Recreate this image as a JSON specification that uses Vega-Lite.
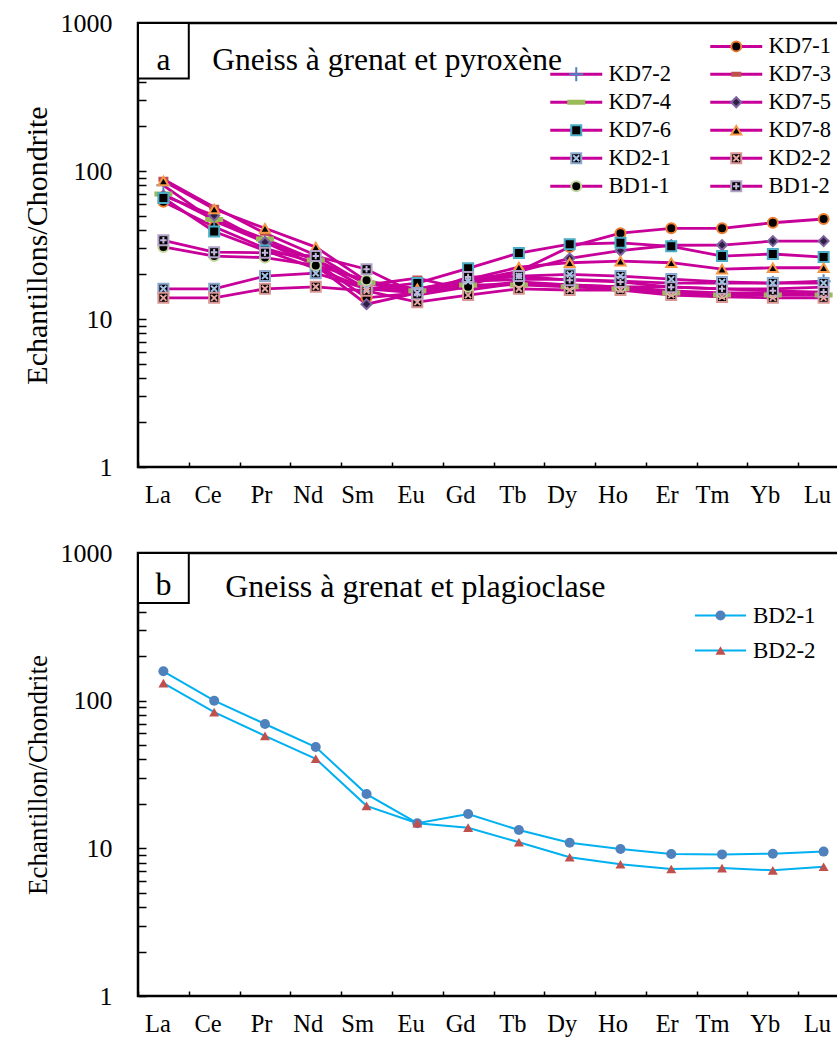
{
  "$schema": "https://vega.github.io/schema/vega-lite/v6.json",
  "background": "white",
  "padding": {"left": 20, "top": 8, "right": 0, "bottom": 0},
  "config": {
    "font": "Liberation Serif",
    "view": {"stroke": "black", "strokeWidth": 2.5},
    "axis": {
      "labelFont": "Liberation Serif",
      "titleFont": "Liberation Serif",
      "labelColor": "black",
      "titleColor": "black",
      "titleFontWeight": "normal",
      "tickColor": "black",
      "domain": false,
      "grid": false
    },
    "legend": {"labelFont": "Liberation Serif", "labelColor": "black", "padding": 0, "labelLimit": 0}
  },
  "datasets": {
    "gneiss_pyroxene": [
      {"s": "KD7-1", "el": "La", "v": 62}, {"s": "KD7-1", "el": "Ce", "v": 42}, {"s": "KD7-1", "el": "Pr", "v": 30}, {"s": "KD7-1", "el": "Nd", "v": 24}, {"s": "KD7-1", "el": "Sm", "v": 13.9}, {"s": "KD7-1", "el": "Eu", "v": 15}, {"s": "KD7-1", "el": "Gd", "v": 17}, {"s": "KD7-1", "el": "Tb", "v": 21}, {"s": "KD7-1", "el": "Dy", "v": 30.7}, {"s": "KD7-1", "el": "Ho", "v": 38}, {"s": "KD7-1", "el": "Er", "v": 41}, {"s": "KD7-1", "el": "Tm", "v": 41}, {"s": "KD7-1", "el": "Yb", "v": 44.7}, {"s": "KD7-1", "el": "Lu", "v": 47.4},
      {"s": "KD7-2", "el": "La", "v": 80}, {"s": "KD7-2", "el": "Ce", "v": 46}, {"s": "KD7-2", "el": "Pr", "v": 33}, {"s": "KD7-2", "el": "Nd", "v": 25}, {"s": "KD7-2", "el": "Sm", "v": 16}, {"s": "KD7-2", "el": "Eu", "v": 16}, {"s": "KD7-2", "el": "Gd", "v": 18}, {"s": "KD7-2", "el": "Tb", "v": 18.5}, {"s": "KD7-2", "el": "Dy", "v": 18.5}, {"s": "KD7-2", "el": "Ho", "v": 18}, {"s": "KD7-2", "el": "Er", "v": 17.5}, {"s": "KD7-2", "el": "Tm", "v": 17.5}, {"s": "KD7-2", "el": "Yb", "v": 17.5}, {"s": "KD7-2", "el": "Lu", "v": 18},
      {"s": "KD7-3", "el": "La", "v": 88}, {"s": "KD7-3", "el": "Ce", "v": 57}, {"s": "KD7-3", "el": "Pr", "v": 38}, {"s": "KD7-3", "el": "Nd", "v": 27}, {"s": "KD7-3", "el": "Sm", "v": 17}, {"s": "KD7-3", "el": "Eu", "v": 18.9}, {"s": "KD7-3", "el": "Gd", "v": 15.7}, {"s": "KD7-3", "el": "Tb", "v": 17.5}, {"s": "KD7-3", "el": "Dy", "v": 17}, {"s": "KD7-3", "el": "Ho", "v": 16.5}, {"s": "KD7-3", "el": "Er", "v": 16.5}, {"s": "KD7-3", "el": "Tm", "v": 16}, {"s": "KD7-3", "el": "Yb", "v": 16}, {"s": "KD7-3", "el": "Lu", "v": 16.4},
      {"s": "KD7-4", "el": "La", "v": 70}, {"s": "KD7-4", "el": "Ce", "v": 47}, {"s": "KD7-4", "el": "Pr", "v": 34.7}, {"s": "KD7-4", "el": "Nd", "v": 25}, {"s": "KD7-4", "el": "Sm", "v": 17.5}, {"s": "KD7-4", "el": "Eu", "v": 15.5}, {"s": "KD7-4", "el": "Gd", "v": 17}, {"s": "KD7-4", "el": "Tb", "v": 17}, {"s": "KD7-4", "el": "Dy", "v": 16.5}, {"s": "KD7-4", "el": "Ho", "v": 16}, {"s": "KD7-4", "el": "Er", "v": 15}, {"s": "KD7-4", "el": "Tm", "v": 14.5}, {"s": "KD7-4", "el": "Yb", "v": 14.5}, {"s": "KD7-4", "el": "Lu", "v": 14.5},
      {"s": "KD7-5", "el": "La", "v": 68}, {"s": "KD7-5", "el": "Ce", "v": 50}, {"s": "KD7-5", "el": "Pr", "v": 33}, {"s": "KD7-5", "el": "Nd", "v": 23}, {"s": "KD7-5", "el": "Sm", "v": 12.6}, {"s": "KD7-5", "el": "Eu", "v": 15}, {"s": "KD7-5", "el": "Gd", "v": 18}, {"s": "KD7-5", "el": "Tb", "v": 21}, {"s": "KD7-5", "el": "Dy", "v": 25.7}, {"s": "KD7-5", "el": "Ho", "v": 29}, {"s": "KD7-5", "el": "Er", "v": 31.5}, {"s": "KD7-5", "el": "Tm", "v": 31.6}, {"s": "KD7-5", "el": "Yb", "v": 33.6}, {"s": "KD7-5", "el": "Lu", "v": 33.6},
      {"s": "KD7-6", "el": "La", "v": 65.7}, {"s": "KD7-6", "el": "Ce", "v": 39}, {"s": "KD7-6", "el": "Pr", "v": 29}, {"s": "KD7-6", "el": "Nd", "v": 22}, {"s": "KD7-6", "el": "Sm", "v": 16}, {"s": "KD7-6", "el": "Eu", "v": 17.5}, {"s": "KD7-6", "el": "Gd", "v": 22}, {"s": "KD7-6", "el": "Tb", "v": 27.9}, {"s": "KD7-6", "el": "Dy", "v": 32}, {"s": "KD7-6", "el": "Ho", "v": 32.7}, {"s": "KD7-6", "el": "Er", "v": 31}, {"s": "KD7-6", "el": "Tm", "v": 26.6}, {"s": "KD7-6", "el": "Yb", "v": 27.5}, {"s": "KD7-6", "el": "Lu", "v": 26.2},
      {"s": "KD7-8", "el": "La", "v": 85.6}, {"s": "KD7-8", "el": "Ce", "v": 55.4}, {"s": "KD7-8", "el": "Pr", "v": 41}, {"s": "KD7-8", "el": "Nd", "v": 30.6}, {"s": "KD7-8", "el": "Sm", "v": 18}, {"s": "KD7-8", "el": "Eu", "v": 16}, {"s": "KD7-8", "el": "Gd", "v": 18.5}, {"s": "KD7-8", "el": "Tb", "v": 22.4}, {"s": "KD7-8", "el": "Dy", "v": 24}, {"s": "KD7-8", "el": "Ho", "v": 24.6}, {"s": "KD7-8", "el": "Er", "v": 24}, {"s": "KD7-8", "el": "Tm", "v": 21.7}, {"s": "KD7-8", "el": "Yb", "v": 22.2}, {"s": "KD7-8", "el": "Lu", "v": 22.2},
      {"s": "KD2-1", "el": "La", "v": 16}, {"s": "KD2-1", "el": "Ce", "v": 16}, {"s": "KD2-1", "el": "Pr", "v": 19.5}, {"s": "KD2-1", "el": "Nd", "v": 20.4}, {"s": "KD2-1", "el": "Sm", "v": 16}, {"s": "KD2-1", "el": "Eu", "v": 15}, {"s": "KD2-1", "el": "Gd", "v": 18}, {"s": "KD2-1", "el": "Tb", "v": 19.5}, {"s": "KD2-1", "el": "Dy", "v": 20}, {"s": "KD2-1", "el": "Ho", "v": 19.5}, {"s": "KD2-1", "el": "Er", "v": 18.6}, {"s": "KD2-1", "el": "Tm", "v": 17.8}, {"s": "KD2-1", "el": "Yb", "v": 17.5}, {"s": "KD2-1", "el": "Lu", "v": 17.5},
      {"s": "KD2-2", "el": "La", "v": 13.9}, {"s": "KD2-2", "el": "Ce", "v": 13.9}, {"s": "KD2-2", "el": "Pr", "v": 16}, {"s": "KD2-2", "el": "Nd", "v": 16.5}, {"s": "KD2-2", "el": "Sm", "v": 15.5}, {"s": "KD2-2", "el": "Eu", "v": 13}, {"s": "KD2-2", "el": "Gd", "v": 14.5}, {"s": "KD2-2", "el": "Tb", "v": 16}, {"s": "KD2-2", "el": "Dy", "v": 15.7}, {"s": "KD2-2", "el": "Ho", "v": 15.7}, {"s": "KD2-2", "el": "Er", "v": 14.5}, {"s": "KD2-2", "el": "Tm", "v": 14.1}, {"s": "KD2-2", "el": "Yb", "v": 13.9}, {"s": "KD2-2", "el": "Lu", "v": 13.9},
      {"s": "BD1-1", "el": "La", "v": 30.7}, {"s": "BD1-1", "el": "Ce", "v": 26.6}, {"s": "BD1-1", "el": "Pr", "v": 26}, {"s": "BD1-1", "el": "Nd", "v": 23}, {"s": "BD1-1", "el": "Sm", "v": 18.3}, {"s": "BD1-1", "el": "Eu", "v": 14.5}, {"s": "BD1-1", "el": "Gd", "v": 16.5}, {"s": "BD1-1", "el": "Tb", "v": 17.8}, {"s": "BD1-1", "el": "Dy", "v": 17}, {"s": "BD1-1", "el": "Ho", "v": 16.5}, {"s": "BD1-1", "el": "Er", "v": 15.5}, {"s": "BD1-1", "el": "Tm", "v": 15}, {"s": "BD1-1", "el": "Yb", "v": 15}, {"s": "BD1-1", "el": "Lu", "v": 15},
      {"s": "BD1-2", "el": "La", "v": 34}, {"s": "BD1-2", "el": "Ce", "v": 28.3}, {"s": "BD1-2", "el": "Pr", "v": 28}, {"s": "BD1-2", "el": "Nd", "v": 26.6}, {"s": "BD1-2", "el": "Sm", "v": 21.7}, {"s": "BD1-2", "el": "Eu", "v": 14.7}, {"s": "BD1-2", "el": "Gd", "v": 19.2}, {"s": "BD1-2", "el": "Tb", "v": 19.5}, {"s": "BD1-2", "el": "Dy", "v": 18.3}, {"s": "BD1-2", "el": "Ho", "v": 17.8}, {"s": "BD1-2", "el": "Er", "v": 16.4}, {"s": "BD1-2", "el": "Tm", "v": 16}, {"s": "BD1-2", "el": "Yb", "v": 15.5}, {"s": "BD1-2", "el": "Lu", "v": 15.2}
    ],
    "gneiss_plagioclase": [
      {"s": "BD2-1", "el": "La", "v": 158}, {"s": "BD2-1", "el": "Ce", "v": 100}, {"s": "BD2-1", "el": "Pr", "v": 69.5}, {"s": "BD2-1", "el": "Nd", "v": 48.5}, {"s": "BD2-1", "el": "Sm", "v": 23.3}, {"s": "BD2-1", "el": "Eu", "v": 14.8}, {"s": "BD2-1", "el": "Gd", "v": 17.1}, {"s": "BD2-1", "el": "Tb", "v": 13.3}, {"s": "BD2-1", "el": "Dy", "v": 10.9}, {"s": "BD2-1", "el": "Ho", "v": 9.9}, {"s": "BD2-1", "el": "Er", "v": 9.15}, {"s": "BD2-1", "el": "Tm", "v": 9.1}, {"s": "BD2-1", "el": "Yb", "v": 9.2}, {"s": "BD2-1", "el": "Lu", "v": 9.5},
      {"s": "BD2-2", "el": "La", "v": 131.6}, {"s": "BD2-2", "el": "Ce", "v": 83.7}, {"s": "BD2-2", "el": "Pr", "v": 57.8}, {"s": "BD2-2", "el": "Nd", "v": 40.4}, {"s": "BD2-2", "el": "Sm", "v": 19.4}, {"s": "BD2-2", "el": "Eu", "v": 14.8}, {"s": "BD2-2", "el": "Gd", "v": 13.8}, {"s": "BD2-2", "el": "Tb", "v": 11}, {"s": "BD2-2", "el": "Dy", "v": 8.7}, {"s": "BD2-2", "el": "Ho", "v": 7.8}, {"s": "BD2-2", "el": "Er", "v": 7.25}, {"s": "BD2-2", "el": "Tm", "v": 7.35}, {"s": "BD2-2", "el": "Yb", "v": 7.1}, {"s": "BD2-2", "el": "Lu", "v": 7.5}
    ]
  },
  "spacing": 30,
  "resolve": {"scale": {"color": "independent", "shape": "independent", "fill": "independent", "stroke": "independent"}},
  "vconcat": [
    {
      "width": 711,
      "height": 444,
      "data": {"name": "gneiss_pyroxene"},
      "resolve": {"scale": {"shape": "independent", "stroke": "independent", "fill": "independent"}},
      "layer": [
        {
          "data": {"values": [{}]},
          "mark": {"type": "rect", "fill": "white", "stroke": "black", "strokeWidth": 2},
          "encoding": {"x": {"datum": "La", "type": "nominal"}, "y": {"datum": 1000, "type": "quantitative"}, "y2": {"datum": 422}}
        },
        {
          "data": {"values": [{}]},
          "mark": {"type": "text", "text": "a", "fontSize": 31.5, "align": "center", "baseline": "alphabetic", "color": "black"},
          "encoding": {"x": {"datum": "La", "type": "nominal"}, "y": {"datum": 481, "type": "quantitative"}}
        },
        {
          "data": {"values": [{}]},
          "mark": {"type": "text", "text": "Gneiss à grenat et pyroxène", "fontSize": 31.5, "align": "left", "baseline": "alphabetic", "dx": -2, "color": "black"},
          "encoding": {"x": {"datum": "Ce", "type": "nominal"}, "y": {"datum": 481, "type": "quantitative"}}
        },
        {
          "mark": {"type": "line", "strokeWidth": 2.8},
          "encoding": {
            "x": {
              "field": "el", "type": "nominal", "title": null,
              "sort": ["La", "Ce", "Pr", "Nd", "Sm", "Eu", "Gd", "Tb", "Dy", "Ho", "Er", "Tm", "Yb", "Lu"],
              "scale": {"type": "band", "domain": ["La", "Ce", "Pr", "Nd", "Sm", "Eu", "Gd", "Tb", "Dy", "Ho", "Er", "Tm", "Yb", "Lu"], "paddingInner": 0, "paddingOuter": 0},
              "axis": {"labelAngle": 0, "labelFontSize": 24.5, "labelPadding": 33, "labelOffset": 7, "tickBand": "extent", "tickSize": -5, "tickWidth": 1.5}
            },
            "y": {
              "field": "v", "type": "quantitative", "title": "Echantillons/Chondrite",
              "scale": {"type": "log", "domain": [1, 1000]},
              "axis": {
                "titleFontSize": 30, "titlePadding": 8,
                "labelFontSize": 26, "labelPadding": 34, "tickSize": -8, "tickWidth": 1.5, "format": "d",
                "values": [1, 2, 3, 4, 5, 6, 7, 8, 9, 10, 20, 30, 40, 50, 60, 70, 80, 90, 100, 200, 300, 400, 500, 600, 700, 800, 900, 1000],
                "labelExpr": "indexof([1, 10, 100, 1000], datum.value) >= 0 ? datum.label : ''"
              }
            },
            "color": {
              "field": "s", "type": "nominal",
              "scale": {
                "domain": [" ", "KD7-2", "KD7-4", "KD7-6", "KD2-1", "BD1-1", "KD7-1", "KD7-3", "KD7-5", "KD7-8", "KD2-2", "BD1-2"],
                "range": ["transparent", "#C8009A", "#C8009A", "#C8009A", "#C8009A", "#C8009A", "#C8009A", "#C8009A", "#C8009A", "#C8009A", "#C8009A", "#C8009A"]
              },
              "legend": {
                "orient": "none", "legendX": 406, "legendY": 12, "columns": 2, "columnPadding": 33, "rowPadding": 5,
                "title": null, "labelFontSize": 22.5, "symbolSize": 100, "symbolOffset": 21, "labelOffset": 21,
                "symbolType": "M-5.2,0H5.2", "symbolStrokeWidth": 3
              }
            }
          }
        },
        {
          "mark": {"type": "point", "filled": true, "opacity": 1, "size": 100, "strokeWidth": 2},
          "encoding": {
            "x": {"field": "el", "type": "nominal", "title": null, "sort": ["La", "Ce", "Pr", "Nd", "Sm", "Eu", "Gd", "Tb", "Dy", "Ho", "Er", "Tm", "Yb", "Lu"]},
            "y": {"field": "v", "type": "quantitative", "title": "Echantillons/Chondrite"},
            "shape": {
              "field": "s", "type": "nominal",
              "scale": {
                "domain": ["  ", "KD7-2", "KD7-4", "KD7-6", "KD2-1", "BD1-1", "KD7-1", "KD7-3", "KD7-5", "KD7-8", "KD2-2", "BD1-2"],
                "range": ["circle", "M-1.4,0H1.4M0,-1.4V1.4", "M-1.6,-0.3H1.6V0.3H-1.6Z", "square", "square", "circle", "circle", "M-0.8,-0.3H0.8V0.3H-0.8Z", "diamond", "triangle-up", "square", "square"]
              },
              "legend": {
                "orient": "none", "legendX": 406, "legendY": 12, "columns": 2, "columnPadding": 33, "rowPadding": 5,
                "title": null, "labelFontSize": 22.5, "symbolSize": 100, "symbolOffset": 21, "labelOffset": 21,
                "symbolStrokeWidth": 2, "labelOpacity": 0
              }
            },
            "fill": {
              "field": "s", "type": "nominal",
              "scale": {
                "domain": ["  ", "KD7-2", "KD7-4", "KD7-6", "KD2-1", "BD1-1", "KD7-1", "KD7-3", "KD7-5", "KD7-8", "KD2-2", "BD1-2"],
                "range": ["transparent", "transparent", "#9BBB59", "black", "black", "black", "black", "#C0504D", "#2E1F44", "black", "black", "black"]
              },
              "legend": {
                "orient": "none", "legendX": 406, "legendY": 12, "columns": 2, "columnPadding": 33, "rowPadding": 5,
                "title": null, "labelFontSize": 22.5, "symbolSize": 100, "symbolOffset": 21, "labelOffset": 21,
                "symbolStrokeWidth": 2, "labelOpacity": 0
              }
            },
            "stroke": {
              "field": "s", "type": "nominal",
              "scale": {
                "domain": ["  ", "KD7-2", "KD7-4", "KD7-6", "KD2-1", "BD1-1", "KD7-1", "KD7-3", "KD7-5", "KD7-8", "KD2-2", "BD1-2"],
                "range": ["transparent", "#4F81BD", "#9BBB59", "#4BACC6", "#8EA9CF", "#C3D69B", "#ED7D31", "#C0504D", "#8064A2", "#F79646", "#D99694", "#B3A2C7"]
              },
              "legend": {
                "orient": "none", "legendX": 406, "legendY": 12, "columns": 2, "columnPadding": 33, "rowPadding": 5,
                "title": null, "labelFontSize": 22.5, "symbolSize": 100, "symbolOffset": 21, "labelOffset": 21,
                "symbolStrokeWidth": 2, "labelOpacity": 0
              }
            }
          }
        },
        {
          "transform": [{"filter": {"field": "s", "oneOf": ["KD2-1", "KD2-2", "BD1-2"]}}],
          "mark": {"type": "point", "filled": false, "opacity": 1, "size": 100, "strokeWidth": 2},
          "encoding": {
            "x": {"field": "el", "type": "nominal", "title": null, "sort": ["La", "Ce", "Pr", "Nd", "Sm", "Eu", "Gd", "Tb", "Dy", "Ho", "Er", "Tm", "Yb", "Lu"]},
            "y": {"field": "v", "type": "quantitative", "title": "Echantillons/Chondrite"},
            "shape": {
              "field": "s", "type": "nominal",
              "scale": {
                "domain": ["   ", "KD7-2", "KD7-4", "KD7-6", "KD2-1", "BD1-1", "KD7-1", "KD7-3", "KD7-5", "KD7-8", "KD2-2", "BD1-2"],
                "range": ["circle", "circle", "circle", "circle", "M-0.6,-0.6L0.6,0.6M-0.6,0.6L0.6,-0.6", "circle", "circle", "circle", "circle", "circle", "M-0.6,-0.6L0.6,0.6M-0.6,0.6L0.6,-0.6", "M-0.65,0H0.65M0,-0.65V0.65"]
              },
              "legend": {
                "orient": "none", "legendX": 406, "legendY": 12, "columns": 2, "columnPadding": 33, "rowPadding": 5,
                "title": null, "labelFontSize": 22.5, "symbolSize": 100, "symbolOffset": 21, "labelOffset": 21,
                "symbolStrokeWidth": 2, "labelOpacity": 0
              }
            },
            "stroke": {
              "field": "s", "type": "nominal",
              "scale": {
                "domain": ["   ", "KD7-2", "KD7-4", "KD7-6", "KD2-1", "BD1-1", "KD7-1", "KD7-3", "KD7-5", "KD7-8", "KD2-2", "BD1-2"],
                "range": ["transparent", "transparent", "transparent", "transparent", "#A6C1E6", "transparent", "transparent", "transparent", "transparent", "transparent", "#E6A5A3", "#C5B6DC"]
              },
              "legend": {
                "orient": "none", "legendX": 406, "legendY": 12, "columns": 2, "columnPadding": 33, "rowPadding": 5,
                "title": null, "labelFontSize": 22.5, "symbolSize": 100, "symbolOffset": 21, "labelOffset": 21,
                "symbolStrokeWidth": 2, "labelOpacity": 0
              }
            }
          }
        }
      ]
    },
    {
      "width": 711,
      "height": 443,
      "data": {"name": "gneiss_plagioclase"},
      "layer": [
        {
          "data": {"values": [{}]},
          "mark": {"type": "rect", "fill": "white", "stroke": "black", "strokeWidth": 2},
          "encoding": {"x": {"datum": "La", "type": "nominal"}, "y": {"datum": 1000, "type": "quantitative"}, "y2": {"datum": 459}}
        },
        {
          "data": {"values": [{}]},
          "mark": {"type": "text", "text": "b", "fontSize": 32, "align": "center", "baseline": "alphabetic", "color": "black"},
          "encoding": {"x": {"datum": "La", "type": "nominal"}, "y": {"datum": 520, "type": "quantitative"}}
        },
        {
          "data": {"values": [{}]},
          "mark": {"type": "text", "text": "Gneiss à grenat et plagioclase", "fontSize": 32, "align": "left", "baseline": "alphabetic", "dx": 11, "color": "black"},
          "encoding": {"x": {"datum": "Ce", "type": "nominal"}, "y": {"datum": 504, "type": "quantitative"}}
        },
        {
          "mark": {"type": "line", "strokeWidth": 2},
          "encoding": {
            "x": {
              "field": "el", "type": "nominal", "title": null,
              "sort": ["La", "Ce", "Pr", "Nd", "Sm", "Eu", "Gd", "Tb", "Dy", "Ho", "Er", "Tm", "Yb", "Lu"],
              "scale": {"type": "band", "domain": ["La", "Ce", "Pr", "Nd", "Sm", "Eu", "Gd", "Tb", "Dy", "Ho", "Er", "Tm", "Yb", "Lu"], "paddingInner": 0, "paddingOuter": 0},
              "axis": {"labelAngle": 0, "labelFontSize": 24.5, "labelPadding": 33, "labelOffset": 7, "tickBand": "extent", "tickSize": -5, "tickWidth": 1.5}
            },
            "y": {
              "field": "v", "type": "quantitative", "title": "Echantillon/Chondrite",
              "scale": {"type": "log", "domain": [1, 1000]},
              "axis": {
                "titleFontSize": 27, "titlePadding": 8,
                "labelFontSize": 26, "labelPadding": 34, "tickSize": -8, "tickWidth": 1.5, "format": "d",
                "values": [1, 2, 3, 4, 5, 6, 7, 8, 9, 10, 20, 30, 40, 50, 60, 70, 80, 90, 100, 200, 300, 400, 500, 600, 700, 800, 900, 1000],
                "labelExpr": "indexof([1, 10, 100, 1000], datum.value) >= 0 ? datum.label : ''"
              }
            },
            "color": {
              "field": "s", "type": "nominal",
              "scale": {"domain": ["BD2-1", "BD2-2", " "], "range": ["#00B0F0", "#00B0F0", "transparent"]},
              "legend": {
                "values": ["BD2-1", "BD2-2"],
                "orient": "none", "legendX": 550, "legendY": 51, "rowPadding": 11,
                "title": null, "labelFontSize": 23, "symbolSize": 100, "symbolOffset": 21, "labelOffset": 21,
                "symbolType": "M-5.1,0H5.1", "symbolStrokeWidth": 2
              }
            }
          }
        },
        {
          "mark": {"type": "point", "filled": true, "opacity": 1, "size": 100, "strokeWidth": 0},
          "encoding": {
            "x": {"field": "el", "type": "nominal", "title": null, "sort": ["La", "Ce", "Pr", "Nd", "Sm", "Eu", "Gd", "Tb", "Dy", "Ho", "Er", "Tm", "Yb", "Lu"]},
            "y": {"field": "v", "type": "quantitative", "title": "Echantillon/Chondrite"},
            "shape": {
              "field": "s", "type": "nominal",
              "scale": {"domain": ["BD2-1", "BD2-2"], "range": ["circle", "triangle-up"]},
              "legend": {
                "orient": "none", "legendX": 550, "legendY": 51, "rowPadding": 11,
                "title": null, "labelFontSize": 23, "symbolSize": 100, "symbolOffset": 21, "labelOffset": 21,
                "symbolStrokeWidth": 0, "labelOpacity": 0
              }
            },
            "fill": {
              "field": "s", "type": "nominal",
              "scale": {"domain": ["BD2-1", "BD2-2"], "range": ["#4F81BD", "#C0504D"]},
              "legend": {
                "orient": "none", "legendX": 550, "legendY": 51, "rowPadding": 11,
                "title": null, "labelFontSize": 23, "symbolSize": 100, "symbolOffset": 21, "labelOffset": 21,
                "symbolStrokeWidth": 0, "labelOpacity": 0
              }
            }
          }
        }
      ]
    }
  ]
}
